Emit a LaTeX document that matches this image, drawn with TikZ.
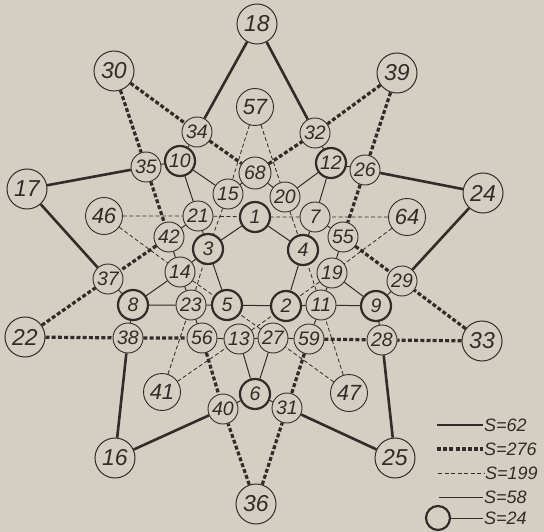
\documentclass[tikz,border=0pt]{standalone}
\usepackage{fontspec}
\setmainfont{Liberation Sans}
\usetikzlibrary{positioning}
\definecolor{paper}{HTML}{D5CFC3}
\definecolor{ink}{HTML}{302C29}

\begin{document}
\begin{tikzpicture}[
  x=1pt, y=-1pt,
  base/.style={circle, draw=ink, fill=paper, inner sep=0pt, text=ink, font=\fontsize{19.5}{19.5}\selectfont\itshape},
  big/.style={base, line width=1pt, minimum size=40pt, font=\fontsize{23}{23}\selectfont\itshape},
  mid/.style={base, line width=0.9pt, minimum size=37pt, font=\fontsize{22}{22}\selectfont\itshape},
  sml/.style={base, line width=0.9pt, minimum size=30pt},
  thk/.style={base, line width=2.2pt, minimum size=30pt},
  s62/.style={draw=ink, line width=2.6pt},
  s276/.style={draw=ink, line width=3.2pt, dash pattern=on 4pt off 2.2pt},
  s199/.style={draw=ink, line width=0.8pt, dash pattern=on 4pt off 2.5pt},
  s58/.style={draw=ink, line width=1pt},
  legtxt/.style={font=\fontsize{18}{18}\selectfont\itshape, text=ink, inner sep=1pt}
]
\fill[paper] (0,0) rectangle (544,532);
\useasboundingbox (0,0) rectangle (544,532);

% outer star points
\node[big] (n18) at (257,24) {18};
\node[big] (n30) at (114,71) {30};
\node[big] (n39) at (397,73) {39};
\node[big] (n17) at (27,189) {17};
\node[big] (n24) at (483,193) {24};
\node[big] (n22) at (25,337) {22};
\node[big] (n33) at (482,341) {33};
\node[big] (n16) at (115,458) {16};
\node[big] (n25) at (395,458) {25};
\node[big] (n36) at (256,504) {36};

\node[mid] (n57) at (255,107) {57};
\node[mid] (n46) at (104,216) {46};
\node[mid] (n64) at (407,217) {64};
\node[mid] (n41) at (162,392) {41};
\node[mid] (n47) at (349,393) {47};

% inner ring
\node[sml] (n34) at (197,132) {34};
\node[sml] (n32) at (315,133) {32};
\node[sml] (n35) at (146,167) {35};
\node[sml] (n26) at (365,170) {26};
\node[sml, minimum size=32pt] (n68) at (255,173) {68};
\node[sml] (n15) at (228,194) {15};
\node[sml] (n20) at (285,197) {20};
\node[sml] (n21) at (198,216) {21};
\node[sml] (n7) at (315,217) {7};
\node[sml] (n42) at (169,237) {42};
\node[sml] (n55) at (343,237) {55};
\node[sml] (n14) at (180,272) {14};
\node[sml] (n19) at (332,273) {19};
\node[sml] (n37) at (108,279) {37};
\node[sml] (n29) at (402,281) {29};
\node[sml] (n23) at (191,305) {23};
\node[sml] (n11) at (321,305) {11};
\node[sml] (n38) at (128,338) {38};
\node[sml] (n56) at (202,338) {56};
\node[sml] (n13) at (239,339) {13};
\node[sml] (n27) at (273,338) {27};
\node[sml] (n59) at (309,339) {59};
\node[sml] (n28) at (382,340) {28};
\node[sml] (n40) at (223,409) {40};
\node[sml] (n31) at (287,408) {31};

\node[thk] (n10) at (180,161) {10};
\node[thk] (n12) at (331,163) {12};
\node[thk] (n1) at (255,217) {1};
\node[thk] (n3) at (208,249) {3};
\node[thk] (n4) at (303,250) {4};
\node[thk] (n8) at (133,305) {8};
\node[thk] (n5) at (227,305) {5};
\node[thk] (n2) at (286,306) {2};
\node[thk] (n9) at (376,306) {9};
\node[thk] (n6) at (255,394) {6};

% S=62
\draw[s62] (n18) -- (n34) (n18) -- (n32) (n17) -- (n35) (n17) -- (n37)
  (n24) -- (n26) (n24) -- (n29) (n16) -- (n38) (n16) -- (n40)
  (n25) -- (n31) (n25) -- (n28);
% S=276
\draw[s276] (n30) -- (n34) (n30) -- (n35) (n39) -- (n32) (n39) -- (n26)
  (n22) -- (n37) (n22) -- (n38) (n33) -- (n29) (n33) -- (n28)
  (n36) -- (n40) (n36) -- (n31);
\draw[s276] (n34) -- (n68) (n68) -- (n32) (n35) -- (n42) (n42) -- (n37)
  (n26) -- (n55) (n55) -- (n29) (n38) -- (n56) (n56) -- (n40)
  (n59) -- (n28) (n59) -- (n31);
% S=199
\draw[s199] (n57) -- (n15) (n15) -- (n3) (n57) -- (n20) (n20) -- (n4)
  (n46) -- (n21) (n21) -- (n1) (n46) -- (n14) (n14) -- (n5)
  (n64) -- (n7) (n7) -- (n1) (n64) -- (n19) (n19) -- (n2)
  (n41) -- (n23) (n23) -- (n3) (n41) -- (n13) (n13) -- (n2)
  (n47) -- (n11) (n11) -- (n4) (n47) -- (n27) (n27) -- (n5);
% S=58
\draw[s58] (n1) -- (n3) (n3) -- (n5) (n5) -- (n2) (n2) -- (n4) (n4) -- (n1)
  (n10) -- (n15) (n10) -- (n21) (n12) -- (n20) (n12) -- (n7)
  (n8) -- (n14) (n8) -- (n23) (n9) -- (n11) (n9) -- (n19)
  (n6) -- (n13) (n6) -- (n27) (n14) -- (n3);
% short links between touching circles
\draw[s58] (n10) -- (n34) (n10) -- (n35) (n12) -- (n32) (n12) -- (n26)
  (n8) -- (n37) (n8) -- (n38) (n9) -- (n29) (n9) -- (n28)
  (n6) -- (n40) (n6) -- (n31) (n15) -- (n68) (n68) -- (n20)
  (n21) -- (n42) (n42) -- (n14) (n14) -- (n23) (n23) -- (n5)
  (n23) -- (n56) (n56) -- (n13) (n13) -- (n27) (n27) -- (n59)
  (n59) -- (n11) (n11) -- (n2) (n11) -- (n19) (n19) -- (n55)
  (n55) -- (n7) (n21) -- (n3) (n7) -- (n4);

% legend
\coordinate (k1) at (437,425); \coordinate (k1e) at (483,425);
\coordinate (k2) at (437,449); \coordinate (k2e) at (483,449);
\coordinate (k3) at (438,473); \coordinate (k3e) at (484,473);
\coordinate (k4) at (439,497); \coordinate (k4e) at (483,497);
\coordinate (k5e) at (483,518);
\node[thk, minimum size=24pt] (kc) at (438,518) {};
\draw[s62] (k1) -- (k1e);
\draw[s276] (k2) -- (k2e);
\draw[s199] (k3) -- (k3e);
\draw[s58] (k4) -- (k4e);
\draw[s58] (kc) -- (k5e);
\node[legtxt, right=0pt of k1e] (t62) {S=62};
\node[legtxt, right=0pt of k2e] (t276) {S=276};
\node[legtxt, right=0pt of k3e] (t199) {S=199};
\node[legtxt, right=0pt of k4e] (t58) {S=58};
\node[legtxt, right=0pt of k5e] (t24) {S=24};
\end{tikzpicture}
\end{document}
